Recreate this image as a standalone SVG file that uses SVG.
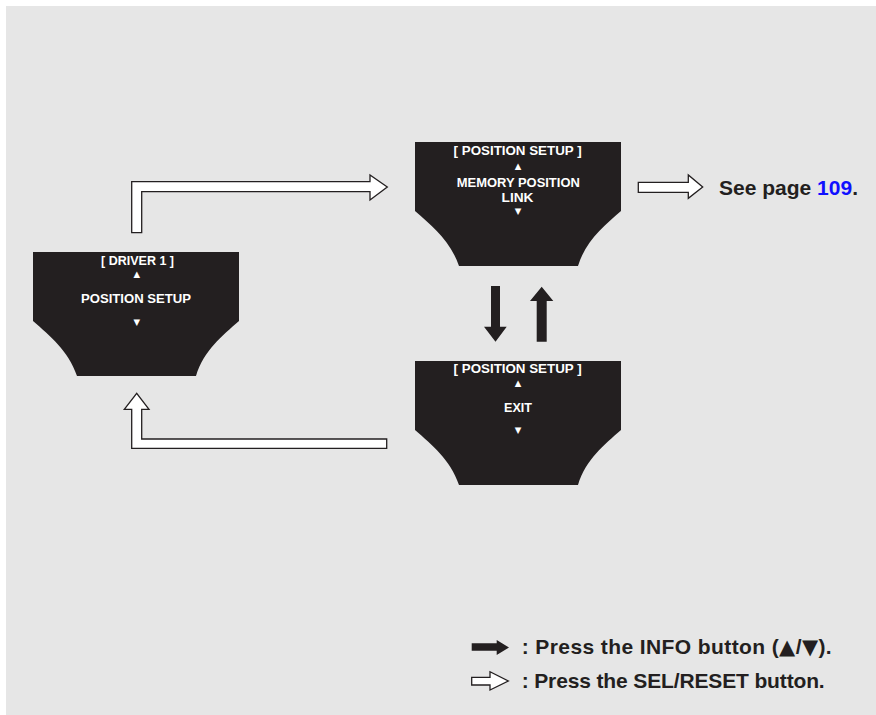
<svg xmlns="http://www.w3.org/2000/svg" xmlns:xlink="http://www.w3.org/1999/xlink" width="876" height="715" viewBox="0 0 876 715">
<style>
.scr{fill:#231f20}
.nt{font-family:"Liberation Sans",Arial,sans-serif;font-weight:bold;font-size:13.5px;fill:#fff;text-anchor:middle}
.tri{font-family:"DejaVu Sans",sans-serif;font-size:8.5px;fill:#fff;text-anchor:middle}
.hollow{fill:#fff;stroke:#231f20;stroke-width:1.3;stroke-linejoin:miter}
.solid{fill:#231f20}
.lt{font-family:"Liberation Sans",Arial,sans-serif;font-weight:bold;font-size:21px;fill:#231f20}
.lg{font-family:"DejaVu Sans",sans-serif;font-size:21px}
</style>
<defs>
<path id="screen" d="M0,0 H206 V69 C189,84 171,98 163,124 H44 C35,98 17,84 0,69 Z"/>
</defs>
<rect x="6" y="6" width="870" height="709" fill="#e6e6e6"/>

<g id="connectors">
<path class="hollow" d="M131.7,232.7 V181.7 H370 V175 L387.3,187 L370,200 V191.7 H141.7 V232.7 Z"/>
<path class="hollow" d="M386.7,439 H141.7 V409.3 H149 L136.7,393.3 L124.3,409.3 H131.7 V448.3 H386.7 Z"/>
<path class="hollow" d="M638.3,182.3 H688.3 V175 L702.7,187 L688.3,198.3 V192.3 H638.3 Z"/>
<path class="solid" d="M491,286 H500 V326.7 H506.7 L495.5,341.7 L484,326.7 H491 Z"/>
<path class="solid" d="M541.7,286.7 L553.3,301 H546.7 V341.7 H536.7 V301 H530 Z"/>
</g>

<g id="node-driver1">
<use xlink:href="#screen" href="#screen" x="33" y="252" class="scr"/>
<text class="nt" x="137.5" y="265" textLength="73" lengthAdjust="spacingAndGlyphs">[ DRIVER 1 ]</text>
<text class="tri" x="136.7" y="277">▲</text>
<text class="nt" x="136" y="303" textLength="110" lengthAdjust="spacingAndGlyphs">POSITION SETUP</text>
<text class="tri" x="136.7" y="324.5">▼</text>
</g>

<g id="node-memory">
<use xlink:href="#screen" href="#screen" x="415" y="142" class="scr"/>
<text class="nt" x="517.6" y="155" textLength="128" lengthAdjust="spacingAndGlyphs">[ POSITION SETUP ]</text>
<text class="tri" x="518" y="169">▲</text>
<text class="nt" x="518.3" y="187" textLength="123" lengthAdjust="spacingAndGlyphs">MEMORY POSITION</text>
<text class="nt" x="517.5" y="202" textLength="32" lengthAdjust="spacingAndGlyphs">LINK</text>
<text class="tri" x="518" y="214">▼</text>
</g>

<g id="node-exit">
<use xlink:href="#screen" href="#screen" x="415" y="361" class="scr"/>
<text class="nt" x="517.6" y="373" textLength="128" lengthAdjust="spacingAndGlyphs">[ POSITION SETUP ]</text>
<text class="tri" x="518" y="386">▲</text>
<text class="nt" x="518" y="412" textLength="28" lengthAdjust="spacingAndGlyphs">EXIT</text>
<text class="tri" x="518" y="433">▼</text>
</g>

<g id="see-page">
<text class="lt" x="719" y="195" textLength="139">See page <tspan fill="#1010ff">109</tspan>.</text>
</g>

<g id="legend">
<path class="solid" d="M471.7,643.3 H496.7 V640 L509,647.5 L496.7,655 V650.7 H471.7 Z"/>
<text class="lt" x="521.7" y="654" textLength="310">: Press the INFO button (<tspan class="lg">▲</tspan>/<tspan class="lg">▼</tspan>).</text>
<path class="hollow" d="M471.7,677.3 H490 V671.7 L508.3,681 L490,690 V685 H471.7 Z"/>
<text class="lt" x="521.7" y="688.3" textLength="303">: Press the SEL/RESET button.</text>
</g>
</svg>
